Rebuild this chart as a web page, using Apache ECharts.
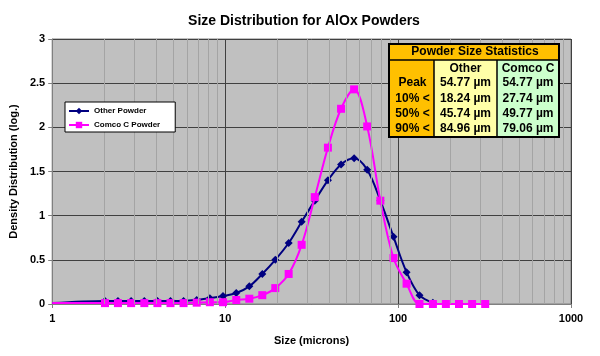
<!DOCTYPE html>
<html>
<head>
<meta charset="utf-8">
<script src="https://cdn.jsdelivr.net/npm/echarts@6/dist/echarts.min.js"></script>
<style>
html,body{margin:0;padding:0;background:#fff;}
#chart{width:600px;height:356px;}
</style>
</head>
<body>
<div id="chart"></div>
<script>
// ---- data ----
const sizes = [1, 2.02, 2.40, 2.86, 3.41, 4.06, 4.83, 5.75, 6.85, 8.16, 9.72, 11.6, 13.8, 16.4, 19.5, 23.3, 27.7, 33.0, 39.3, 46.8, 55.7, 66.3, 79.0, 94.1, 112, 133, 159, 189, 225, 268, 319];
const otherPowder = [0.01, 0.035, 0.035, 0.035, 0.035, 0.035, 0.035, 0.035, 0.045, 0.065, 0.09, 0.125, 0.20, 0.34, 0.50, 0.69, 0.93, 1.17, 1.40, 1.58, 1.65, 1.52, 1.17, 0.76, 0.36, 0.10, 0.015];
const comcoPowder = [0.01, 0.01, 0.01, 0.01, 0.01, 0.01, 0.01, 0.01, 0.015, 0.02, 0.02, 0.045, 0.06, 0.10, 0.18, 0.34, 0.67, 1.21, 1.77, 2.21, 2.43, 2.01, 1.17, 0.52, 0.23, 0, 0, 0, 0, 0, 0];
const minorGrid = [2, 3, 4, 5, 6, 7, 8, 9, 20, 30, 40, 50, 60, 70, 80, 90, 200, 300, 400, 500, 600, 700, 800, 900];
const seriesNames = ['Other Powder', 'Comco C Powder'];
const tableTitle = 'Powder Size Statistics';
const tableCols = ['Other', 'Comco C'];
const tableRows = ['Peak', '10% <', '50% <', '90% <'];
const tableOther = ['54.77 µm', '18.24 µm', '45.74 µm', '84.96 µm'];
const tableComco = ['54.77 µm', '27.74 µm', '49.77 µm', '79.06 µm'];

const FONT = 'Liberation Sans, Arial, sans-serif';

function toPoints(vals) {
  return vals.map((v, i) => {
    const p = { value: [sizes[i], v] };
    if (sizes[i] === 1) { p.symbol = 'none'; p.symbolSize = 0; }
    return p;
  });
}

// ---- table graphics ----
const tX = 389, tY = 44, tW = 170, tH = 93;
const c1 = 434, c2 = 497, hY = 60;
const rowY = [83, 99, 114, 129];
const ZT = 100;
const tableEls = [];
tableEls.push({ type: 'rect', z: ZT, shape: { x: tX, y: tY, width: tW, height: hY - tY }, style: { fill: '#ffc000' } });
tableEls.push({ type: 'rect', z: ZT, shape: { x: tX, y: hY, width: c1 - tX, height: tY + tH - hY }, style: { fill: '#ffc000' } });
tableEls.push({ type: 'rect', z: ZT, shape: { x: c1, y: hY, width: c2 - c1, height: tY + tH - hY }, style: { fill: '#ffffa8' } });
tableEls.push({ type: 'rect', z: ZT, shape: { x: c2, y: hY, width: tX + tW - c2, height: tY + tH - hY }, style: { fill: '#ccffcc' } });
tableEls.push({ type: 'line', z: ZT + 1, shape: { x1: tX, y1: hY, x2: tX + tW, y2: hY }, style: { stroke: '#000', lineWidth: 1.5 } });
tableEls.push({ type: 'line', z: ZT + 1, shape: { x1: c1, y1: hY, x2: c1, y2: tY + tH }, style: { stroke: '#000', lineWidth: 1.5 } });
tableEls.push({ type: 'line', z: ZT + 1, shape: { x1: c2, y1: hY, x2: c2, y2: tY + tH }, style: { stroke: '#000', lineWidth: 1.5 } });
tableEls.push({ type: 'rect', z: ZT + 2, shape: { x: tX, y: tY, width: tW, height: tH }, style: { fill: 'none', stroke: '#000', lineWidth: 2 } });
const txt = (s, x, y) => ({ type: 'text', z: ZT + 3, x: x, y: y, style: { text: s, fill: '#000', font: 'bold 12px ' + FONT, align: 'center', verticalAlign: 'middle' } });
tableEls.push(txt(tableTitle, (tX + tX + tW) / 2 + 1, 52));
tableEls.push(txt(tableCols[0], (c1 + c2) / 2, 69));
tableEls.push(txt(tableCols[1], (c2 + tX + tW) / 2, 69));
tableRows.forEach((r, i) => {
  tableEls.push(txt(r, (tX + c1) / 2 + 1, rowY[i]));
  tableEls.push(txt(tableOther[i], (c1 + c2) / 2, rowY[i]));
  tableEls.push(txt(tableComco[i], (c2 + tX + tW) / 2, rowY[i]));
});

const chart = echarts.init(document.getElementById('chart'), null, { renderer: 'canvas' });
chart.setOption({
  animation: false,
  backgroundColor: '#ffffff',
  textStyle: { fontFamily: FONT },
  title: {
    text: 'Size Distribution for AlOx Powders',
    left: 299, top: 9, textAlign: 'center',
    textStyle: { fontSize: 14, fontWeight: 'bold', color: '#000', fontFamily: FONT }
  },
  legend: {
    left: 65, top: 102, orient: 'vertical', z: 50,
    backgroundColor: '#ffffff', borderColor: '#000', borderWidth: 1,
    padding: [5, 15, 3, 3], itemGap: 6, itemWidth: 20, itemHeight: 8,
    textStyle: { fontSize: 8, fontWeight: 'bold', color: '#000', fontFamily: FONT },
    data: seriesNames
  },
  grid: {
    left: 46, right: 29, top: 39, bottom: 52,
    show: true, backgroundColor: '#c0c0c0', borderColor: '#808080', borderWidth: 1
  },
  xAxis: {
    type: 'log', logBase: 10, min: 1, max: 1000,
    name: 'Size (microns)', nameLocation: 'middle', nameGap: 31,
    nameTextStyle: { fontSize: 11, fontWeight: 'bold', color: '#000', fontFamily: FONT },
    axisLine: { show: true, lineStyle: { color: '#808080' } },
    axisTick: { show: true, inside: false, length: 4, lineStyle: { color: '#808080' } },
    axisLabel: { fontSize: 11, fontWeight: 'bold', color: '#000', margin: 9, fontFamily: FONT,
      formatter: v => String(Math.round(v)) },
    splitLine: { show: true, lineStyle: { color: '#404040', width: 1 } },
    minorTick: { show: false }, minorSplitLine: { show: false }
  },
  yAxis: {
    type: 'value', min: 0, max: 3, interval: 0.5,
    name: 'Density Distribution (log.)', nameLocation: 'middle', nameGap: 27,
    nameTextStyle: { fontSize: 11, fontWeight: 'bold', color: '#000', fontFamily: FONT },
    axisLine: { show: true, lineStyle: { color: '#808080' } },
    axisTick: { show: true, inside: false, length: 4, lineStyle: { color: '#808080' } },
    axisLabel: { fontSize: 11, fontWeight: 'bold', color: '#000', margin: 7, fontFamily: FONT },
    splitLine: { show: true, lineStyle: { color: '#404040', width: 1 } }
  },
  series: [
    {
      name: '__minor', type: 'line', data: [], z: 1, silent: true,
      markLine: {
        silent: true, symbol: ['none', 'none'], label: { show: false },
        lineStyle: { color: '#a4a4a4', type: 'solid', width: 1 },
        emphasis: { disabled: true },
        data: minorGrid.map(v => ({ xAxis: v }))
      }
    },
    {
      name: seriesNames[0], type: 'line', z: 3,
      data: toPoints(otherPowder), smooth: 0.35,
      symbol: 'diamond', symbolSize: 8,
      lineStyle: { color: '#000080', width: 2 },
      itemStyle: { color: '#000080' }
    },
    {
      name: seriesNames[1], type: 'line', z: 4,
      data: toPoints(comcoPowder), smooth: 0.35,
      symbol: 'rect', symbolSize: 8,
      lineStyle: { color: '#ff00ff', width: 2 },
      itemStyle: { color: '#ff00ff' }
    }
  ],
  graphic: { z: 100, elements: tableEls }
});
</script>
</body>
</html>
